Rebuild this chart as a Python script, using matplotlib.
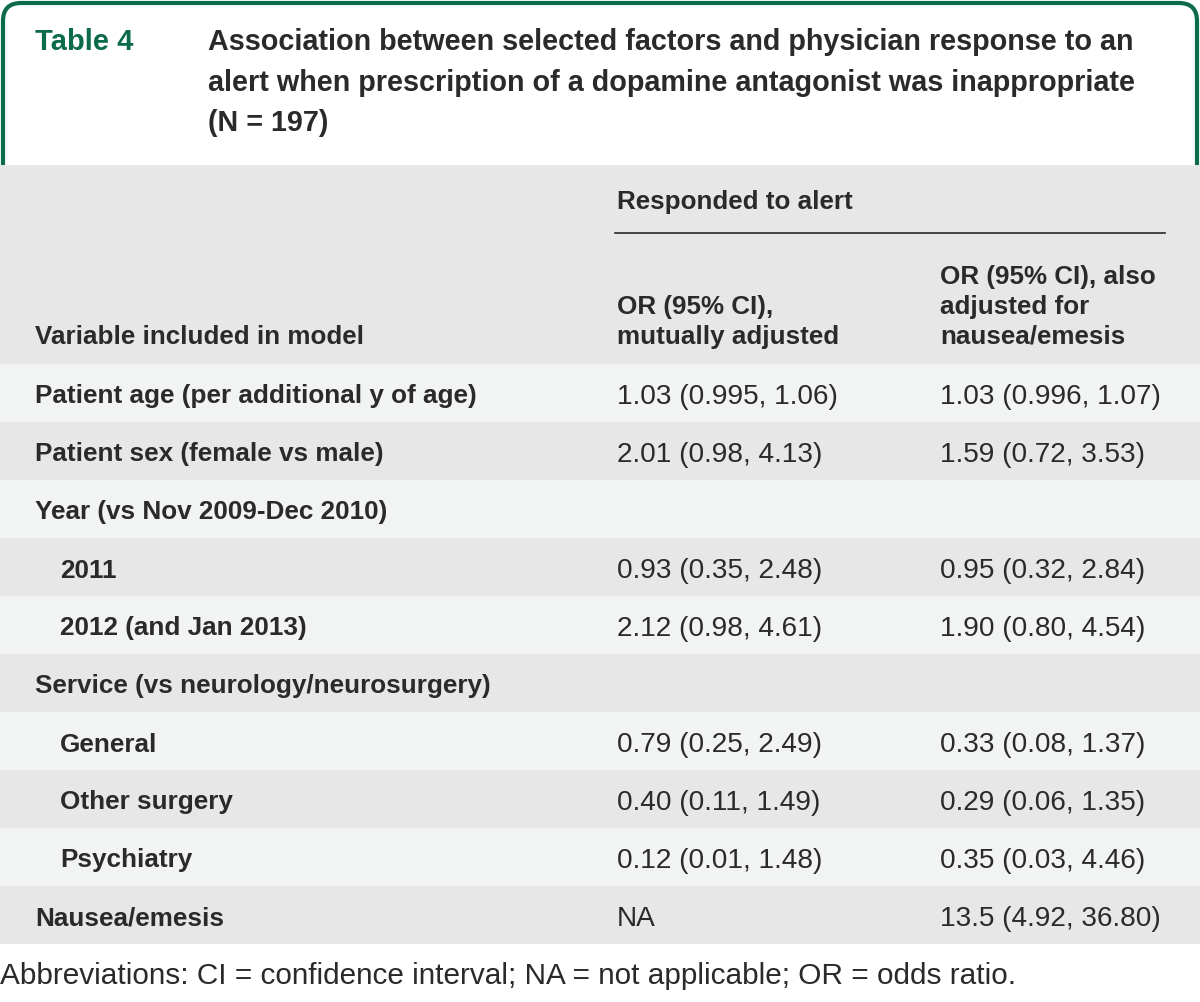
import matplotlib
matplotlib.use("Agg")
import matplotlib.pyplot as plt
from matplotlib.patches import FancyBboxPatch, Rectangle

# table contents
row_labels = ["Patient age (per additional y of age)", "Patient sex (female vs male)",
              "Year (vs Nov 2009-Dec 2010)", "2011", "2012 (and Jan 2013)",
              "Service (vs neurology/neurosurgery)", "General", "Other surgery",
              "Psychiatry", "Nausea/emesis"]
indented = [False, False, False, True, True, False, True, True, True, False]
or_mutual = ["1.03 (0.995, 1.06)", "2.01 (0.98, 4.13)", "", "0.93 (0.35, 2.48)",
             "2.12 (0.98, 4.61)", "", "0.79 (0.25, 2.49)", "0.40 (0.11, 1.49)",
             "0.12 (0.01, 1.48)", "NA"]
or_nausea = ["1.03 (0.996, 1.07)", "1.59 (0.72, 3.53)", "", "0.95 (0.32, 2.84)",
             "1.90 (0.80, 4.54)", "", "0.33 (0.08, 1.37)", "0.29 (0.06, 1.35)",
             "0.35 (0.03, 4.46)", "13.5 (4.92, 36.80)"]
title_lines = ["Association between selected factors and physician response to an",
               "alert when prescription of a dopamine antagonist was inappropriate",
               "(N = 197)"]
footnote = "Abbreviations: CI = confidence interval; NA = not applicable; OR = odds ratio."

green = "#0b6b4c"
ink = "#2a2a2a"
light = "#f2f3f3"
gray = "#e7e7e7"

W, H = 1200, 1002
fig = plt.figure(figsize=(W / 100, H / 100), dpi=100)
ax = fig.add_axes([0, 0, 1, 1])
ax.set_xlim(0, W)
ax.set_ylim(H, 0)
ax.axis("off")

# header box with rounded top corners
ax.add_patch(FancyBboxPatch((3, 3), 1194, 220, boxstyle="round,pad=0,rounding_size=18",
                            fc="white", ec=green, lw=3, zorder=1))
ax.text(35, 50, "Table 4", color=green, fontsize=21, fontweight="bold",
        family="Liberation Sans", va="baseline", zorder=3)
for i, line in enumerate(title_lines):
    ax.text(208, 50 + 40.5 * i, line, color=ink, fontsize=20.7, fontweight="bold",
            family="Liberation Sans", va="baseline", zorder=3)

# column header block
ax.add_patch(Rectangle((0, 165), W, 199, fc=gray, ec="none", zorder=2))
hdr = dict(color=ink, fontsize=18.7, fontweight="bold", family="Liberation Sans",
           va="baseline", zorder=3)
ax.text(617, 209, "Responded to alert", **hdr)
ax.plot([615, 1165], [233, 233], color=ink, lw=1.2, zorder=3)
ax.text(35, 344, "Variable included in model", **hdr)
ax.text(617, 314, "OR (95% CI),", **hdr)
ax.text(617, 344, "mutually adjusted", **hdr)
ax.text(940, 284, "OR (95% CI), also", **hdr)
ax.text(940, 314, "adjusted for", **hdr)
ax.text(940, 344, "nausea/emesis", **hdr)

# body rows
top, rh = 364, 58
for i, lab in enumerate(row_labels):
    y0 = top + i * rh
    ax.add_patch(Rectangle((0, y0), W, rh, fc=light if i % 2 == 0 else gray,
                           ec="none", zorder=2))
    yc = y0 + rh / 2 + 1
    ax.text(60 if indented[i] else 35, yc, lab, color=ink, fontsize=18.8,
            fontweight="bold", family="Liberation Sans", va="center_baseline", zorder=3)
    ax.text(617, yc, or_mutual[i], color=ink, fontsize=20.2,
            family="Liberation Sans", va="center_baseline", zorder=3)
    ax.text(940, yc, or_nausea[i], color=ink, fontsize=20.2,
            family="Liberation Sans", va="center_baseline", zorder=3)

ax.text(0, 984, footnote, color=ink, fontsize=21.4,
        family="Liberation Sans", va="baseline", zorder=3)

fig.savefig("out.png", dpi=100, facecolor="white")
